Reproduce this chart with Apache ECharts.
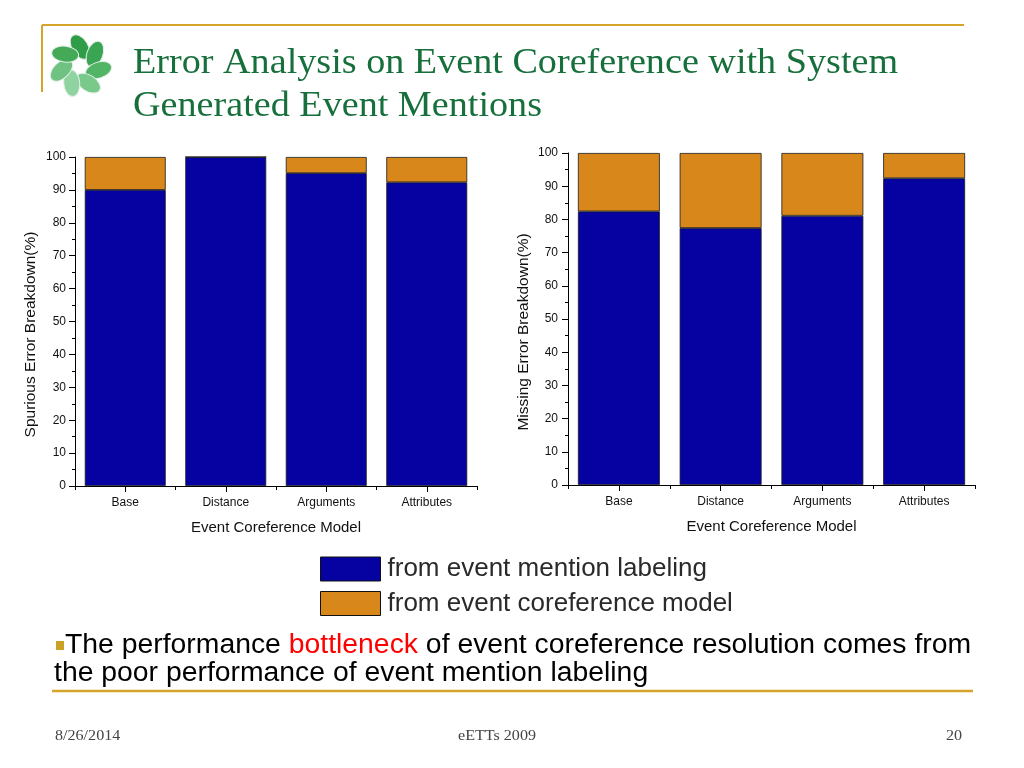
<!DOCTYPE html>
<html>
<head>
<meta charset="utf-8">
<script src="https://cdn.jsdelivr.net/npm/echarts@6/dist/echarts.min.js"></script>
<style>
html,body{margin:0;padding:0;background:#fff;}
#c{width:1024px;height:768px;}
</style>
</head>
<body>
<div id="c"></div>
<script>
const categories = ['Base', 'Distance', 'Arguments', 'Attributes'];
const spuriousLabeling = [90, 100, 95.1, 92.3];
const spuriousModel = [10, 0, 4.9, 7.7];
const missingLabeling = [82.4, 77.4, 81.1, 92.4];
const missingModel = [17.6, 22.6, 18.9, 7.6];
const seriesNames = ['from event mention labeling', 'from event coreference model'];
const yTicks = [0, 10, 20, 30, 40, 50, 60, 70, 80, 90, 100];

const BLUE = '#0602A2';
const ORANGE = '#D8871A';
const FONT = 'Liberation Sans, Arial, sans-serif';
const SERIF = 'Liberation Serif, serif';

const chart = echarts.init(document.getElementById('c'));

function yAxis(gridIndex, name, margin) {
  return {
    type: 'value', gridIndex: gridIndex, min: yTicks[0], max: yTicks[yTicks.length - 1], interval: 10,
    name: name, nameLocation: 'middle', nameRotate: 90, nameGap: 36,
    nameTextStyle: { fontFamily: FONT, fontSize: 15.5, color: '#111', padding: [0, 26, 0, 0] },
    axisLine: { show: true, lineStyle: { color: '#000', width: 1 } },
    axisTick: { show: true, length: 6, lineStyle: { color: '#000' } },
    minorTick: { show: true, splitNumber: 2, length: 3, lineStyle: { color: '#000' } },
    axisLabel: { fontFamily: FONT, fontSize: 12, color: '#111', margin: margin },
    splitLine: { show: false }
  };
}
function xAxis(gridIndex) {
  return {
    type: 'category', gridIndex: gridIndex, data: categories,
    name: 'Event Coreference Model', nameLocation: 'middle', nameGap: 34,
    nameTextStyle: { fontFamily: FONT, fontSize: 15, color: '#111' },
    axisLine: { show: true, lineStyle: { color: '#000', width: 1 } },
    axisTick: { show: true, length: 4, alignWithLabel: false, lineStyle: { color: '#000' } },
    axisLabel: { fontFamily: FONT, fontSize: 12, color: '#111', margin: 11 },
    splitLine: { show: false }
  };
}
function xAxisCenterTicks(gridIndex) {
  return {
    type: 'category', gridIndex: gridIndex, data: categories, position: 'bottom',
    axisLine: { show: false },
    axisTick: { show: true, length: 6, alignWithLabel: true, lineStyle: { color: '#000' } },
    axisLabel: { show: false },
    splitLine: { show: false }
  };
}
function bar(name, data, color, xi, yi, stack) {
  return {
    name: name, type: 'bar', stack: stack, data: data,
    xAxisIndex: xi, yAxisIndex: yi, barWidth: '80.5%',
    itemStyle: { color: color, borderColor: '#1a1a1a', borderWidth: 0.8 },
    emphasis: { disabled: true }
  };
}

// logo: pinwheel petals
const petalColors = ['#2f9c48', '#3aa653', '#52b566', '#78c98a', '#8fd4a0', '#6fc282', '#44aa58'];
const petals = [];
for (let i = 0; i < 7; i++) {
  const a = -Math.PI / 2 + i * 2 * Math.PI / 7;
  petals.push({
    type: 'group', x: 80, y: 66, rotation: -a,
    children: [{
      type: 'ellipse', x: 19, y: 0, rotation: 0.55,
      shape: { cx: 0, cy: 0, rx: 13.5, ry: 8 },
      style: { fill: petalColors[i], stroke: '#e6efe8', lineWidth: 1 }
    }]
  });
}

chart.setOption({
  animation: false,
  legend: {
    orient: 'vertical', left: 320, top: 556, padding: 0, itemWidth: 60, itemHeight: 24, itemGap: 8.5,
    icon: 'rect', data: seriesNames, selectedMode: false,
    itemStyle: { borderColor: '#111', borderWidth: 1 },
    textStyle: { fontFamily: FONT, fontSize: 26, color: '#2a2a2a', padding: [0, 0, 0, 2] }
  },
  grid: [
    { left: 75, top: 157, width: 402, height: 329 },
    { left: 568, top: 153, width: 407, height: 332 }
  ],
  xAxis: [xAxis(0), xAxis(1), xAxisCenterTicks(0), xAxisCenterTicks(1)],
  yAxis: [yAxis(0, 'Spurious Error Breakdown(%)', 9), yAxis(1, 'Missing Error Breakdown(%)', 10)],
  series: [
    bar(seriesNames[0], spuriousLabeling, BLUE, 0, 0, 's'),
    bar(seriesNames[1], spuriousModel, ORANGE, 0, 0, 's'),
    bar(seriesNames[0], missingLabeling, BLUE, 1, 1, 'm'),
    bar(seriesNames[1], missingModel, ORANGE, 1, 1, 'm')
  ],
  graphic: [
    { type: 'line', shape: { x1: 42, y1: 25, x2: 964, y2: 25 }, style: { stroke: '#D4A52A', lineWidth: 2 } },
    { type: 'line', shape: { x1: 42, y1: 25, x2: 42, y2: 92 }, style: { stroke: '#D4A52A', lineWidth: 2 } },
    { type: 'line', shape: { x1: 52, y1: 691, x2: 973, y2: 691 }, style: { stroke: '#D4A52A', lineWidth: 2.5 } },
    { type: 'group', children: petals },
    { type: 'text', x: 133, y: 46, scaleX: 1.06, style: { text: 'Error Analysis on Event Coreference with System', fontFamily: SERIF, fontSize: 36, fill: '#17703C', align: 'left', verticalAlign: 'top' } },
    { type: 'text', x: 133, y: 89, scaleX: 1.06, style: { text: 'Generated Event Mentions', fontFamily: SERIF, fontSize: 36, fill: '#17703C', align: 'left', verticalAlign: 'top' } },
    { type: 'rect', shape: { x: 56, y: 641, width: 8, height: 9 }, style: { fill: '#C9A227' } },
    { type: 'text', x: 65, y: 632, scaleX: 1.05, style: {
        text: '{n|The performance }{r|bottleneck}{n| of event coreference resolution comes from}',
        align: 'left', verticalAlign: 'top',
        rich: { n: { fontFamily: FONT, fontSize: 27, fill: '#000' }, r: { fontFamily: FONT, fontSize: 27, fill: '#FF0000' } } } },
    { type: 'text', x: 54, y: 660, scaleX: 1.05, style: { text: 'the poor performance of event mention labeling', fontFamily: FONT, fontSize: 27, fill: '#000', align: 'left', verticalAlign: 'top' } },
    { type: 'text', x: 55, y: 729, scaleX: 1.15, style: { text: '8/26/2014', fontFamily: SERIF, fontSize: 14, fill: '#444', align: 'left', verticalAlign: 'top' } },
    { type: 'text', x: 497, y: 729, scaleX: 1.15, style: { text: 'eETTs 2009', fontFamily: SERIF, fontSize: 14, fill: '#444', align: 'center', verticalAlign: 'top' } },
    { type: 'text', x: 962, y: 729, scaleX: 1.15, style: { text: '20', fontFamily: SERIF, fontSize: 14, fill: '#444', align: 'right', verticalAlign: 'top' } }
  ]
});
</script>
</body>
</html>
